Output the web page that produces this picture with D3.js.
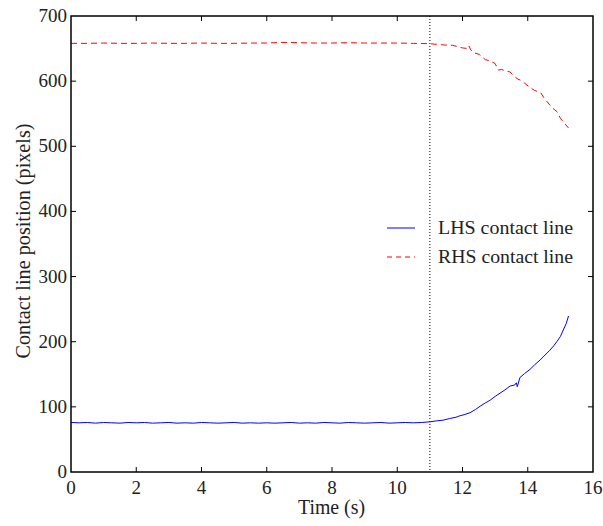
<!DOCTYPE html>
<html><head><meta charset="utf-8">
<script src="https://cdn.jsdelivr.net/npm/d3@7"></script>
<style>body{margin:0;background:#fff}svg{display:block}text{font-family:"Liberation Serif","DejaVu Serif",serif;fill:#222}</style>
</head><body><svg id="c" width="603" height="526"></svg>
<script>
const xTicks = [0,2,4,6,8,10,12,14,16];
const yTicks = [0,100,200,300,400,500,600,700];
const lhsTime = [0,0.25,0.5,0.75,1,1.25,1.5,1.75,2,2.25,2.5,2.75,3,3.25,3.5,3.75,4,4.25,4.5,4.75,5,5.25,5.5,5.75,6,6.25,6.5,6.75,7,7.25,7.5,7.75,8,8.25,8.5,8.75,9,9.25,9.5,9.75,10,10.25,10.5,10.75,11,11.2,11.4,11.6,11.8,11.9,12.05,12.23,12.4,12.54,12.7,12.84,13.0,13.15,13.3,13.46,13.55,13.6,13.65,13.68,13.72,13.76,13.9,14.07,14.2,14.38,14.5,14.68,14.8,14.89,15.0,15.09,15.18,15.25];
const lhsPos = [76,75.5,76,75,76,75.5,75,76,75.5,76,75,75.5,76,75,75.5,75,76,75.5,75,75.5,76,75,75.5,75,75.5,75,75.5,76,75,75.5,75,76,75.5,75,76,75.5,75,75.5,76,75,75.5,76,75.5,76,77,78.5,79.5,82,84,86,88,91,96,101,106,110,116,121,126,132,133,133.5,137,131,138,145,151,157.6,164,172,178,187,194,200,208,218,228,239.5];
const rhsTime = [0,0.5,1,1.5,2,2.5,3,3.5,4,4.5,5,5.5,6,6.5,7,7.5,8,8.5,9,9.5,10,10.5,11,11.2,11.45,11.7,12.0,12.17,12.2,12.25,12.38,12.52,12.7,12.85,13.0,13.1,13.2,13.3,13.46,13.55,13.7,13.8,13.9,14.05,14.2,14.4,14.5,14.6,14.75,14.9,15.0,15.1,15.25];
const rhsPos = [658,658,658.5,658,658,658.5,658,658,658.5,658,658,658.5,658.5,659.5,659,658.5,658.5,659,658.5,658.5,658.5,658,657.5,656.5,655.5,655,651,650,654,648,643,641,633,631,627,617,618,616,614,609,603,601,597,591,586,582,574,568,559,553,543,537,528];

const svg = d3.select("#c");
const m = {l:71, r:593, t:16, b:472};
const x = d3.scaleLinear().domain([0,16]).range([m.l,m.r]);
const y = d3.scaleLinear().domain([0,700]).range([m.b,m.t]);
const tl = 5;
const g = svg.append("g");
xTicks.forEach(v=>{
  if(v>0 && v<16){
    g.append("line").attr("x1",x(v)).attr("x2",x(v)).attr("y1",m.b).attr("y2",m.b-tl).attr("stroke","#000");
    g.append("line").attr("x1",x(v)).attr("x2",x(v)).attr("y1",m.t).attr("y2",m.t+tl).attr("stroke","#000");
  }
  g.append("text").attr("x",x(v)).attr("y",m.b+22).attr("text-anchor","middle").attr("font-size",19).text(v);
});
yTicks.forEach(v=>{
  if(v>0 && v<700){
    g.append("line").attr("y1",y(v)).attr("y2",y(v)).attr("x1",m.l).attr("x2",m.l+tl).attr("stroke","#000");
    g.append("line").attr("y1",y(v)).attr("y2",y(v)).attr("x1",m.r).attr("x2",m.r-tl).attr("stroke","#000");
  }
  g.append("text").attr("x",m.l-4).attr("y",y(v)+6).attr("text-anchor","end").attr("font-size",19).text(v);
});
g.append("line").attr("x1",x(11)).attr("x2",x(11)).attr("y1",m.t).attr("y2",m.b)
  .attr("stroke","#000").attr("stroke-width",1).attr("stroke-dasharray","1,2");
const line = d3.line().x(d=>x(d[0])).y(d=>y(d[1]));
g.append("path").datum(lhsTime.map((t,i)=>[t,lhsPos[i]])).attr("d",line)
  .attr("fill","none").attr("stroke","#0000ff").attr("stroke-width",1);
g.append("path").datum(rhsTime.map((t,i)=>[t,rhsPos[i]])).attr("d",line)
  .attr("fill","none").attr("stroke","#ff0000").attr("stroke-width",1).attr("stroke-dasharray","6,4");
g.append("rect").attr("x",m.l).attr("y",m.t).attr("width",m.r-m.l).attr("height",m.b-m.t)
  .attr("fill","none").attr("stroke","#000").attr("stroke-width",1.5);
const lg = g.append("g");
[["LHS contact line","#0000ff",null,228],["RHS contact line","#ff0000","5,4",257]].forEach(([lab,col,dash,yy])=>{
  const l = lg.append("line").attr("x1",387).attr("x2",415).attr("y1",yy).attr("y2",yy).attr("stroke",col).attr("stroke-width",1);
  if(dash) l.attr("stroke-dasharray",dash);
  lg.append("text").attr("x",438).attr("y",yy+6).attr("font-size",19)
    .attr("textLength",135).attr("lengthAdjust","spacingAndGlyphs").text(lab);
});
g.append("text").attr("x",331.5).attr("y",514).attr("text-anchor","middle").attr("font-size",20)
  .attr("textLength",67).attr("lengthAdjust","spacingAndGlyphs").text("Time (s)");
g.append("text").attr("transform",`translate(30,${241}) rotate(-90)`).attr("text-anchor","middle").attr("font-size",20)
  .attr("textLength",235).attr("lengthAdjust","spacingAndGlyphs").text("Contact line position (pixels)");
</script></body></html>
